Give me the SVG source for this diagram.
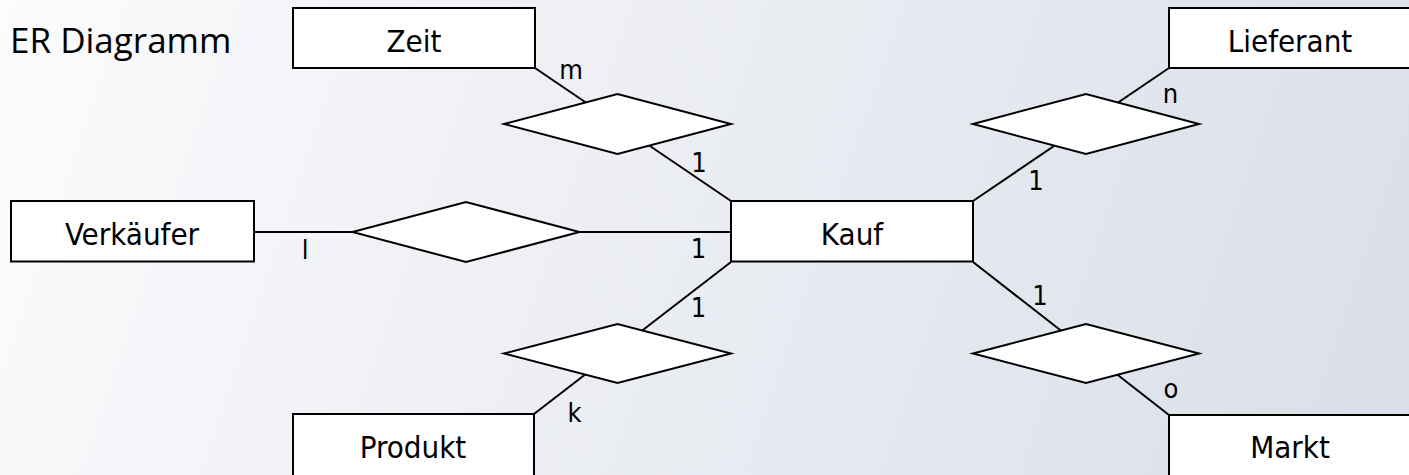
<svg xmlns="http://www.w3.org/2000/svg" width="1409" height="475" viewBox="0 0 1409 475">
<defs>
<linearGradient id="bg" x1="0" y1="0" x2="1409" y2="475" gradientUnits="userSpaceOnUse">
<stop offset="0" stop-color="#fcfcfd"/>
<stop offset="0.2" stop-color="#f4f5f8"/>
<stop offset="1" stop-color="#d9dee8"/>
</linearGradient>
</defs>
<style>
.ent rect{fill:#fff;stroke:#000;stroke-width:2}
.rel polygon{fill:#fff;stroke:#000;stroke-width:2;stroke-linejoin:miter}
.ent text{font-family:"DejaVu Sans Condensed","DejaVu Sans",sans-serif;font-stretch:condensed;font-size:31px;fill:#000;text-anchor:middle}
.lbl{font-family:"DejaVu Sans Condensed","DejaVu Sans",sans-serif;font-stretch:condensed;font-size:27px;fill:#000;text-anchor:middle}
#connectors line{stroke:#000;stroke-width:2}
.title{font-family:"Open Sans","Noto Sans",sans-serif;font-size:35px;fill:#000}
</style>
<rect x="0" y="0" width="1409" height="475" fill="url(#bg)"/>
<text class="title" x="10" y="53">ER Diagramm</text>
<g id="connectors">
<line x1="535" y1="68" x2="731" y2="201"/>
<line x1="254" y1="232" x2="731" y2="232"/>
<line x1="1169" y1="68" x2="973" y2="201"/>
<line x1="731" y1="262" x2="534" y2="414"/>
<line x1="973" y1="262" x2="1169" y2="415"/>
</g>
<g id="rel-zeit" class="rel"><polygon points="504,124 617.5,94 731,124 617.5,154"/></g>
<g id="rel-verkaeufer" class="rel"><polygon points="352.5,232 466,202 579.5,232 466,262"/></g>
<g id="rel-lieferant" class="rel"><polygon points="973,124 1086,94 1199,124 1086,154"/></g>
<g id="rel-produkt" class="rel"><polygon points="504,353.5 617.5,324 731,353.5 617.5,383"/></g>
<g id="rel-markt" class="rel"><polygon points="973,353.5 1086,324 1199,353.5 1086,383"/></g>
<g id="zeit" class="ent"><rect x="293" y="8" width="242" height="60"/><text x="414" y="52">Zeit</text></g>
<g id="lieferant" class="ent"><rect x="1169" y="8" width="242" height="60"/><text x="1290" y="52">Lieferant</text></g>
<g id="verkaeufer" class="ent"><rect x="11" y="201" width="243" height="60.5"/><text x="132" y="245">Verkäufer</text></g>
<g id="kauf" class="ent"><rect x="731" y="201" width="242" height="60.5"/><text x="852" y="245">Kauf</text></g>
<g id="produkt" class="ent"><rect x="293" y="414" width="241" height="62"/><text x="413" y="458">Produkt</text></g>
<g id="markt" class="ent"><rect x="1169" y="415" width="242" height="62"/><text x="1290" y="458">Markt</text></g>
<g id="labels">
<text class="lbl" x="571" y="79">m</text>
<text class="lbl" x="699" y="172">1</text>
<text class="lbl" x="305" y="259">l</text>
<text class="lbl" x="698.5" y="258">1</text>
<text class="lbl" x="1170.5" y="103">n</text>
<text class="lbl" x="1036" y="190">1</text>
<text class="lbl" x="698.5" y="317">1</text>
<text class="lbl" x="1040" y="305">1</text>
<text class="lbl" x="574.5" y="422">k</text>
<text class="lbl" x="1171" y="398">o</text>
</g>
</svg>
